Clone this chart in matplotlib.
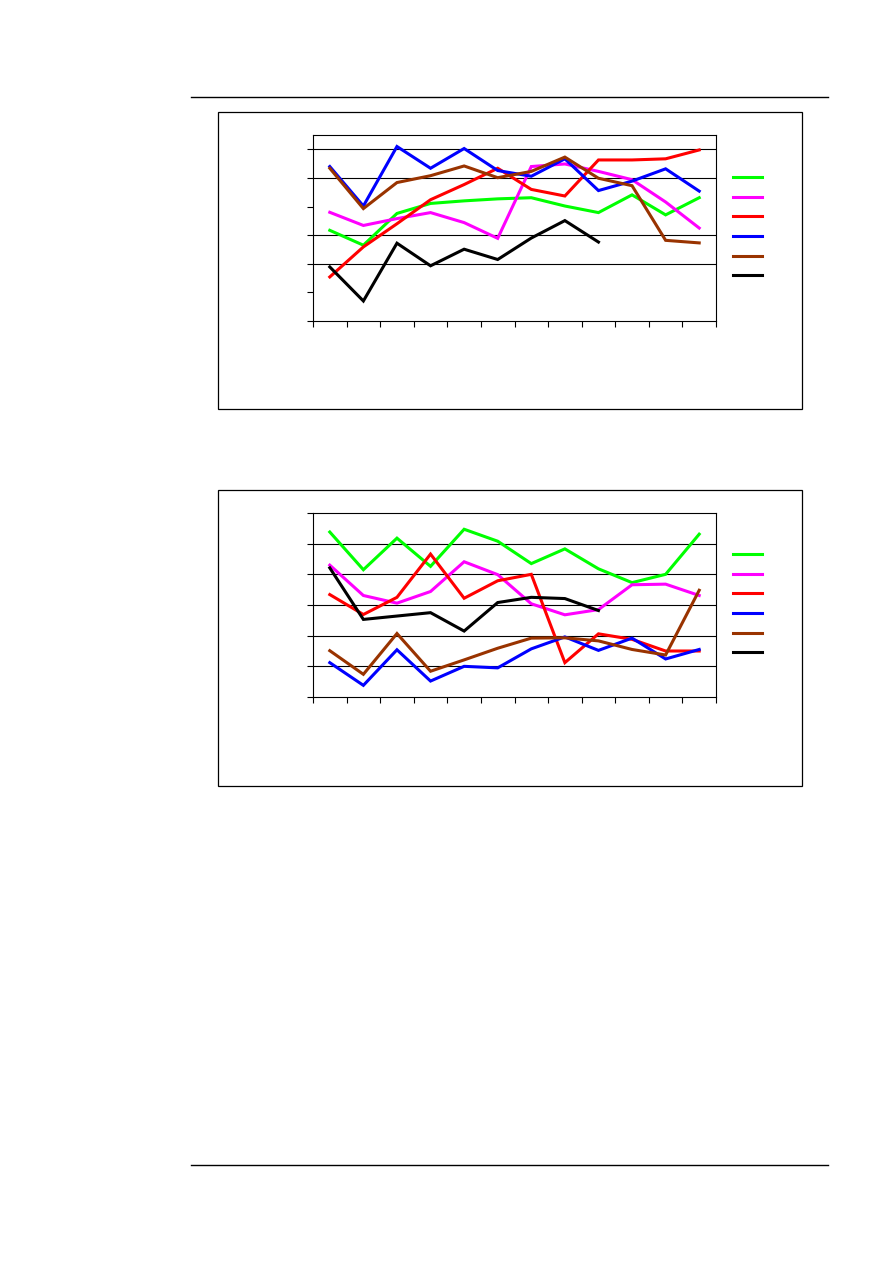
import numpy as np
import matplotlib
matplotlib.use("Agg")
import matplotlib.pyplot as plt
from matplotlib.patches import Rectangle
from matplotlib.lines import Line2D

# 12 categories, no labels on the page
categories = list(range(12))
colors = ["#00FF00", "#FF00FF", "#FF0000", "#0000FF", "#993300", "#000000"]
nan = np.nan

# chart 1 (top)
top_green = [3.17, 2.65, 3.76, 4.11, 4.20, 4.27, 4.31, 4.02, 3.79, 4.41, 3.71, 4.31]
top_magenta = [3.80, 3.34, 3.58, 3.79, 3.44, 2.89, 5.40, 5.49, 5.23, 4.94, 4.16, 3.25]
top_red = [1.54, 2.59, 3.40, 4.24, 4.77, 5.34, 4.60, 4.37, 5.63, 5.63, 5.67, 5.98]
top_blue = [5.40, 4.02, 6.10, 5.34, 6.03, 5.26, 5.06, 5.67, 4.56, 4.89, 5.32, 4.54]
top_brown = [5.34, 3.93, 4.84, 5.08, 5.42, 5.01, 5.23, 5.73, 4.99, 4.73, 2.82, 2.73]
top_black = [1.89, 0.70, 2.72, 1.93, 2.51, 2.15, 2.90, 3.51, 2.76, nan, nan, nan]

# chart 2 (bottom)
bot_green = [5.38, 4.15, 5.18, 4.26, 5.47, 5.08, 4.35, 4.83, 4.18, 3.73, 4.00, 5.31]
bot_magenta = [4.30, 3.31, 3.06, 3.44, 4.41, 3.99, 3.04, 2.68, 2.85, 3.66, 3.68, 3.31]
bot_red = [3.34, 2.69, 3.25, 4.66, 3.22, 3.79, 4.00, 1.12, 2.06, 1.88, 1.50, 1.50]
bot_blue = [1.12, 0.38, 1.54, 0.52, 1.00, 0.95, 1.57, 1.96, 1.52, 1.92, 1.24, 1.55]
bot_brown = [1.51, 0.74, 2.07, 0.84, 1.21, 1.59, 1.92, 1.93, 1.83, 1.55, 1.37, 3.48]
bot_black = [4.21, 2.53, 2.64, 2.75, 2.15, 3.08, 3.25, 3.21, 2.82, nan, nan, nan]

W, H = 893, 1263
fig = plt.figure(figsize=(W / 100, H / 100), dpi=100)


def fx(px):
    return px / W


def fy(py):
    return 1 - py / H


# page header / footer rules
for y in (97, 1165):
    fig.add_artist(Line2D([fx(191), fx(828)], [fy(y), fy(y)], color="black", lw=1.0))


def draw_chart(box, area, series, ymax, grid_levels, legend_center):
    bx0, by0, bx1, by1 = box
    fig.add_artist(Rectangle((fx(bx0), fy(by1)), fx(bx1 - bx0), (by1 - by0) / H,
                             fill=False, edgecolor="black", lw=0.9))
    x0, y0, x1, y1 = area
    ax = fig.add_axes([fx(x0), fy(y1), fx(x1 - x0), (y1 - y0) / H])
    for lvl in grid_levels:
        ax.axhline(lvl, color="black", lw=0.8, zorder=1)
    handles = []
    for vals, c in zip(series, colors):
        ln, = ax.plot(categories, vals, color=c, lw=2.2, zorder=3, solid_joinstyle="miter")
        handles.append(ln)
    ax.set_xlim(-0.5, 11.5)
    ax.set_ylim(0, ymax)
    ax.set_xticks(np.arange(-0.5, 12, 1))
    ax.set_yticks(np.arange(0, 7, 1))
    ax.tick_params(direction="out", length=4, width=0.8, labelbottom=False, labelleft=False)
    for s in ax.spines.values():
        s.set_linewidth(0.8)
    ax.legend(handles, [" "] * 6, loc="center left",
              bbox_to_anchor=(fx(legend_center[0]), fy(legend_center[1])),
              bbox_transform=fig.transFigure, frameon=False, fontsize=8,
              handlelength=2.6, handletextpad=0, borderpad=0, borderaxespad=0,
              labelspacing=0.87)
    return ax


draw_chart((218, 112, 802, 409), (313, 134.5, 716, 321),
           [top_green, top_magenta, top_red, top_blue, top_brown, top_black],
           6.52, [2, 3, 5, 6], (733, 227))
draw_chart((218, 490, 802, 786), (313, 513, 716, 697),
           [bot_green, bot_magenta, bot_red, bot_blue, bot_brown, bot_black],
           6.0, [1, 2, 3, 4, 5], (733, 604))

fig.savefig("out.png", dpi=100)
